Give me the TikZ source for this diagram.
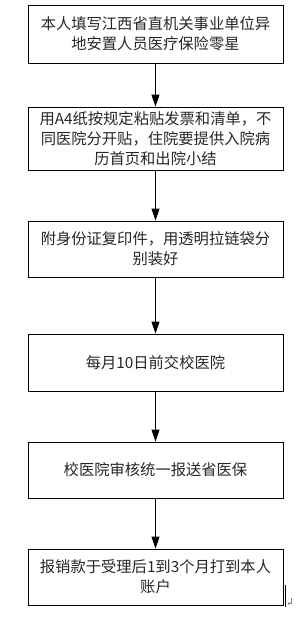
\documentclass[tikz,border=0pt]{standalone}
\usepackage{fontspec}
\setmainfont{Noto Sans CJK SC}
\usetikzlibrary{arrows.meta}
\begin{document}
\begin{tikzpicture}[x=1pt,y=-1pt,
  box/.style={draw=black,line width=0.8pt,minimum width=255pt,inner sep=0pt,
    align=center,font=\fontsize{15.3}{20}\selectfont,text=black!85},
  flow/.style={draw=black,line width=0.8pt,-{Triangle[length=12pt,width=8pt]}}]
\useasboundingbox (0,0) rectangle (302,619);
\node[box,minimum height=58pt] (b1) at (155.5,34) {本人填写江西省直机关事业单位异\\地安置人员医疗保险零星};
\node[box,minimum height=63pt] (b2) at (155.5,138.5) {用A4纸按规定粘贴发票和清单，不\\同医院分开贴，住院要提供入院病\\历首页和出院小结};
\node[box,minimum height=56pt] (b3) at (155.5,249) {附身份证复印件，用透明拉链袋分\\别装好};
\node[box,minimum height=57pt] (b4) at (155.5,362.5) {每月10日前交校医院};
\node[box,minimum height=56pt] (b5) at (155.5,470) {校医院审核统一报送省医保};
\node[box,minimum height=56pt] (b6) at (155.5,577) {报销款于受理后1到3个月打到本人\\账户};
\draw[flow] (b1) -- (b2);
\draw[flow] (b2) -- (b3);
\draw[flow] (b3) -- (b4);
\draw[flow] (b4) -- (b5);
\draw[flow] (b5) -- (b6);
\coordinate (c1) at (285.5,585);
\coordinate (c2) at (285.5,607);
\draw[line width=1.6pt] (c1) -- (c2);
\coordinate (r1) at (291,598);
\coordinate (r2) at (291,603.5);
\coordinate (r3) at (287.5,603.5);
\draw[black!50,line width=0.4pt,-{Straight Barb[length=1.5pt,width=2.5pt]}] (r1) -- (r2) -- (r3);
\end{tikzpicture}
\end{document}
